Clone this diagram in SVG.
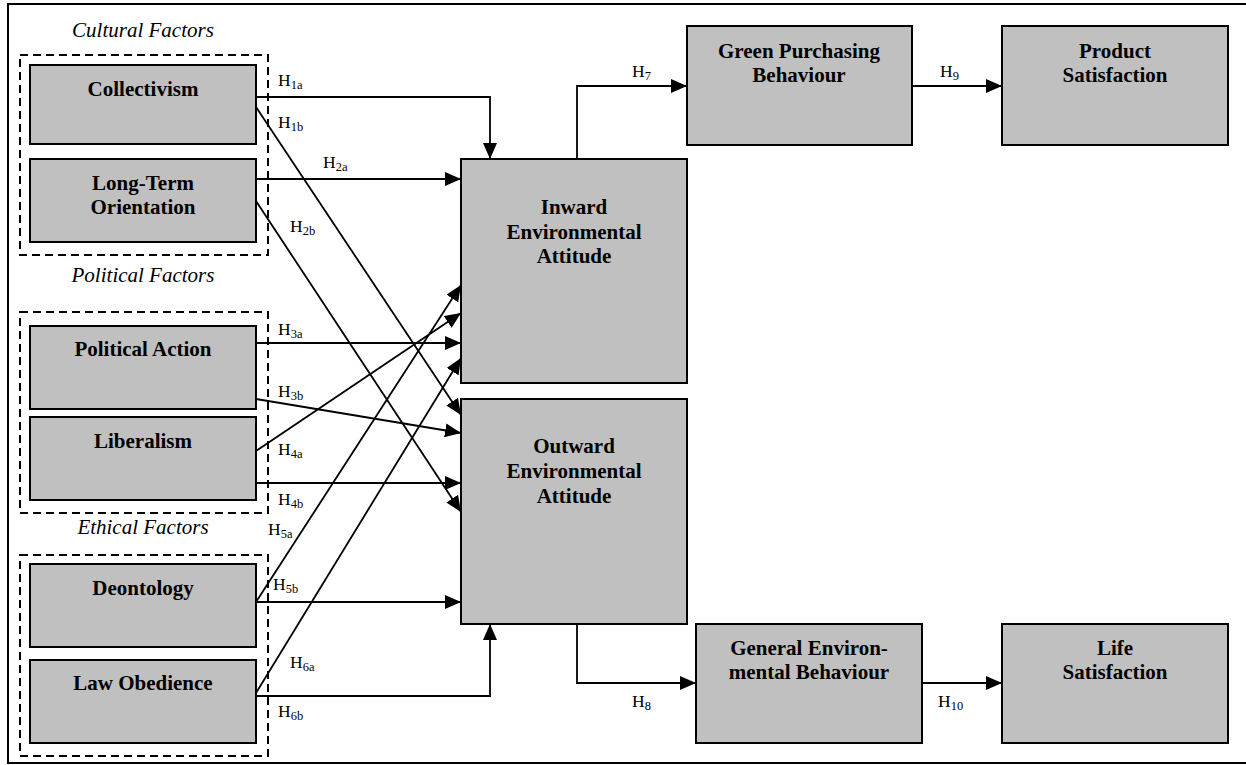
<svg xmlns="http://www.w3.org/2000/svg" width="1246" height="765" viewBox="0 0 1246 765">
<style>
.box{fill:#c0c0c0;stroke:#000;stroke-width:2}
.grp{fill:none;stroke:#000;stroke-width:2;stroke-dasharray:8 5}
.t{font-family:"Liberation Serif","Times New Roman",serif;font-weight:bold;font-size:21px;text-anchor:middle;fill:#000}
.f{font-family:"Liberation Serif","Times New Roman",serif;font-style:italic;font-size:21px;text-anchor:middle;fill:#000}
.h{font-family:"Liberation Serif","Times New Roman",serif;font-size:17.5px;fill:#000}
.s{font-size:12.5px}
.c{fill:none;stroke:#000;stroke-width:1.8}
</style>
<defs>
<marker id="ah" markerUnits="userSpaceOnUse" markerWidth="16" markerHeight="14" refX="16" refY="7" orient="auto">
<path d="M0,0 L16,7 L0,14 z" fill="#000"/>
</marker>
</defs>
<rect width="1246" height="765" fill="#fff"/>
<path d="M1246,4 L8,4 L8,763 L1246,763" fill="none" stroke="#000" stroke-width="2"/>

<g id="cultural">
<text class="f" x="143" y="37">Cultural Factors</text>
<rect class="grp" x="20" y="55" width="248" height="200"/>
</g>
<g id="political">
<text class="f" x="143" y="282">Political Factors</text>
<rect class="grp" x="20" y="312" width="248" height="201"/>
</g>
<g id="ethical">
<text class="f" x="143" y="534">Ethical Factors</text>
<rect class="grp" x="20" y="555" width="248" height="201"/>
</g>

<g id="collectivism"><rect class="box" x="30" y="65" width="226" height="79"/><text class="t" x="143" y="96">Collectivism</text></g>
<g id="longterm"><rect class="box" x="30" y="159" width="226" height="83"/><text class="t" x="143" y="190">Long-Term</text><text class="t" x="143" y="214">Orientation</text></g>
<g id="politicalaction"><rect class="box" x="30" y="326" width="226" height="83"/><text class="t" x="143" y="356">Political Action</text></g>
<g id="liberalism"><rect class="box" x="30" y="417" width="226" height="83"/><text class="t" x="143" y="448">Liberalism</text></g>
<g id="deontology"><rect class="box" x="30" y="564" width="226" height="83"/><text class="t" x="143" y="595">Deontology</text></g>
<g id="lawobedience"><rect class="box" x="30" y="660" width="226" height="83"/><text class="t" x="143" y="690">Law Obedience</text></g>

<g id="inward"><rect class="box" x="461" y="159" width="226" height="224"/><text class="t" x="574" y="214">Inward</text><text class="t" x="574" y="239">Environmental</text><text class="t" x="574" y="263">Attitude</text></g>
<g id="outward"><rect class="box" x="461" y="399" width="226" height="225"/><text class="t" x="574" y="453">Outward</text><text class="t" x="574" y="478">Environmental</text><text class="t" x="574" y="503">Attitude</text></g>

<g id="green"><rect class="box" x="687" y="26" width="225" height="119"/><text class="t" x="799" y="58">Green Purchasing</text><text class="t" x="799" y="82">Behaviour</text></g>
<g id="product"><rect class="box" x="1002" y="26" width="226" height="119"/><text class="t" x="1115" y="58">Product</text><text class="t" x="1115" y="82">Satisfaction</text></g>
<g id="general"><rect class="box" x="696" y="624" width="226" height="119"/><text class="t" x="809" y="655">General Environ-</text><text class="t" x="809" y="679">mental Behaviour</text></g>
<g id="life"><rect class="box" x="1002" y="624" width="226" height="119"/><text class="t" x="1115" y="655">Life</text><text class="t" x="1115" y="679">Satisfaction</text></g>

<g id="connectors">
<path class="c" d="M256,97 H490 V159" marker-end="url(#ah)"/>
<path class="c" d="M256,107 L461,415" marker-end="url(#ah)"/>
<path class="c" d="M256,179 H461" marker-end="url(#ah)"/>
<path class="c" d="M256,201 L461,512" marker-end="url(#ah)"/>
<path class="c" d="M256,343 H461" marker-end="url(#ah)"/>
<path class="c" d="M256,399 L461,433" marker-end="url(#ah)"/>
<path class="c" d="M256,451 L461,313" marker-end="url(#ah)"/>
<path class="c" d="M256,483 H461" marker-end="url(#ah)"/>
<path class="c" d="M256,602 L461,285" marker-end="url(#ah)"/>
<path class="c" d="M256,602 H461" marker-end="url(#ah)"/>
<path class="c" d="M256,693 L461,358" marker-end="url(#ah)"/>
<path class="c" d="M256,696 H490 V624" marker-end="url(#ah)"/>
<path class="c" d="M577,159 V86 H687" marker-end="url(#ah)"/>
<path class="c" d="M912,86 H1002" marker-end="url(#ah)"/>
<path class="c" d="M577,624 V683 H696" marker-end="url(#ah)"/>
<path class="c" d="M922,683 H1002" marker-end="url(#ah)"/>
</g>

<g id="labels">
<text class="h" x="278" y="86">H<tspan class="s" dy="3">1a</tspan></text>
<text class="h" x="278" y="128">H<tspan class="s" dy="3">1b</tspan></text>
<text class="h" x="323" y="168">H<tspan class="s" dy="3">2a</tspan></text>
<text class="h" x="290" y="232">H<tspan class="s" dy="3">2b</tspan></text>
<text class="h" x="278" y="335">H<tspan class="s" dy="3">3a</tspan></text>
<text class="h" x="278" y="397">H<tspan class="s" dy="3">3b</tspan></text>
<text class="h" x="278" y="455">H<tspan class="s" dy="3">4a</tspan></text>
<text class="h" x="278" y="505">H<tspan class="s" dy="3">4b</tspan></text>
<text class="h" x="268" y="535">H<tspan class="s" dy="3">5a</tspan></text>
<text class="h" x="273" y="590">H<tspan class="s" dy="3">5b</tspan></text>
<text class="h" x="290" y="668">H<tspan class="s" dy="3">6a</tspan></text>
<text class="h" x="278" y="717">H<tspan class="s" dy="3">6b</tspan></text>
<text class="h" x="632" y="77">H<tspan class="s" dy="3">7</tspan></text>
<text class="h" x="940" y="77">H<tspan class="s" dy="3">9</tspan></text>
<text class="h" x="632" y="707">H<tspan class="s" dy="3">8</tspan></text>
<text class="h" x="938" y="707">H<tspan class="s" dy="3">10</tspan></text>
</g>
</svg>
